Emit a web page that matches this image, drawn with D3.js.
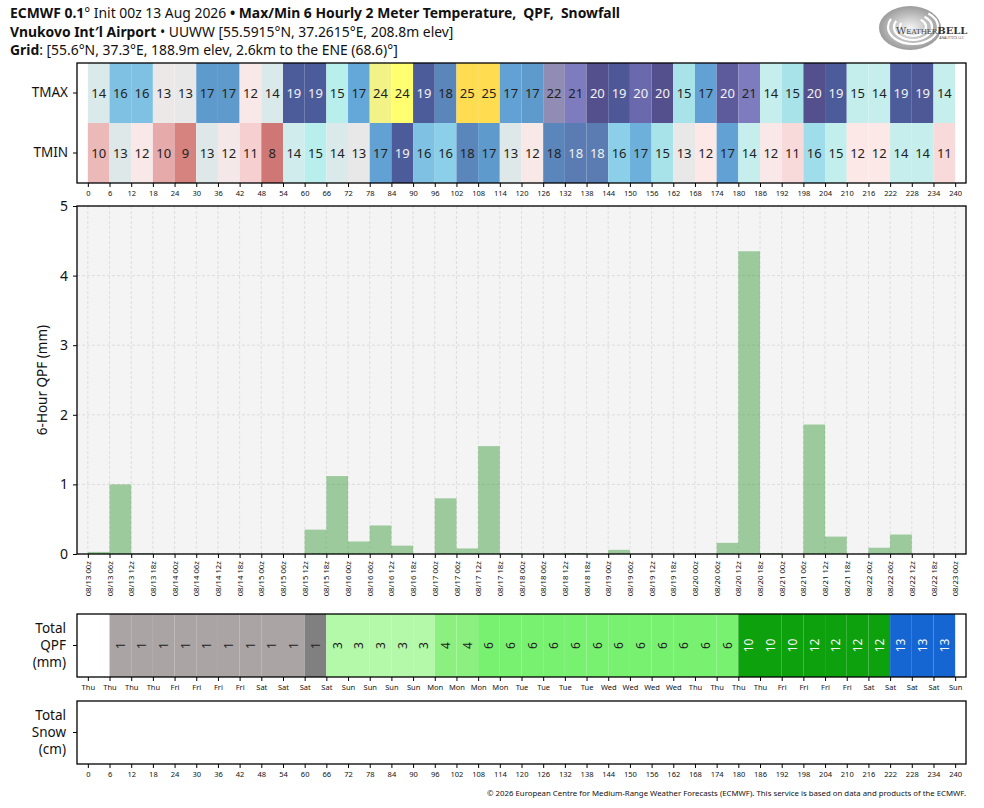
<!DOCTYPE html>
<html lang="en">
<head>
<meta charset="UTF-8">
<title>ECMWF Max/Min 6 Hourly Temperature, QPF, Snowfall</title>
<style>
  body { margin: 0; background: #fff; }
  svg { display: block; font-family: 'Noto Sans', sans-serif; }
  .tick line { stroke: #000; }
  .domain { display: none; }
  .title text { white-space: pre; }
</style>
</head>
<body>
<div id="chart"></div>
<script src="https://cdn.jsdelivr.net/npm/d3@7/dist/d3.min.js"></script>
<script>
// forecast start and 6 hour steps (start hour of each period)
const initTime = new Date(Date.UTC(2026, 7, 13, 0));
const steps = d3.range(0, 240, 6);
const tickHours = d3.range(0, 241, 6);

// 6 hourly max / min 2 m temperature (degC)
const tmax = [13.6, 16.4, 16.4, 12.8, 13.0, 17.4, 17.4, 12.2, 13.6, 19.0,
              19.0, 15.0, 17.0, 23.6, 24.2, 19.0, 18.0, 25.0, 25.0, 17.2,
              17.4, 22.0, 21.0, 20.0, 19.3, 20.45, 20.0, 15.4, 17.2, 20.2,
              21.0, 14.4, 15.4, 20.0, 19.0, 14.5, 14.4, 19.0, 19.3, 14.4];
const tmin = [10.4, 13.4, 12.2, 10.0, 9.0, 13.4, 12.4, 11.0, 8.2, 14.0,
              15.0, 13.6, 13.0, 17.2, 19.0, 16.4, 16.0, 18.0, 17.4, 13.4,
              12.2, 18.0, 18.4, 18.4, 16.0, 16.8, 15.4, 13.0, 12.0, 17.2,
              14.4, 12.2, 11.4, 15.6, 14.6, 12.0, 12.0, 14.4, 14.4, 11.4];

// 6 hour precipitation (mm)
const qpf6h = [0.03, 1.00, 0.01, 0, 0, 0, 0, 0, 0, 0,
               0.35, 1.12, 0.18, 0.41, 0.12, 0, 0.80, 0.08, 1.55, 0.01,
               0, 0, 0.01, 0, 0.06, 0, 0, 0, 0, 0.16,
               4.35, 0.01, 0, 1.86, 0.25, 0, 0.09, 0.28, 0, 0];

// temperature colour map
const tempStops = [8, 9, 10, 11, 12, 13, 13.5, 14, 14.5, 15, 15.5, 16, 16.5, 17, 17.5,
                   18, 18.5, 19, 20, 20.5, 21, 22, 23.5, 24.2, 25];
const tempColors = ['#cc7472', '#d6827f', '#e6aaaa', '#f6d0d0', '#fde8e8', '#e8e8e8', '#dde8e8',
                    '#d0ecec', '#c4eeec', '#b8eeec', '#a4e0ea', '#8ccfe8', '#7bbde0', '#64a8da',
                    '#5e96c8', '#5a86bc', '#5a7ab0', '#4c5c9a', '#54508e', '#6e6cb0', '#7e7cbe',
                    '#908cb4', '#f0f08a', '#ffff70', '#ffdc50'];

// accumulated precipitation colour bins (mm)
const qpfThresholds = [0.5, 1.25, 2.5, 3.75, 5, 7.5, 10, 12.5, 20];
const qpfColors = ['#ffffff', '#aaa4a4', '#808080', '#b4f9aa', '#8cf080', '#78f070',
                   '#3cc83c', '#0ea10e', '#1565d2', '#0a3c96'];

const W = 984, H = 808;
const left = 77, right = 966;

const tempColor = d3.scaleLinear().domain(tempStops).range(tempColors).clamp(true);
const qpfColor = d3.scaleThreshold().domain(qpfThresholds).range(qpfColors);
const x = d3.scaleLinear().domain([-3, 243]).range([left, right]);
const fmtDate = d3.utcFormat('%m/%d %Hz');
const fmtDay = d3.utcFormat('%a');
const hourToDate = h => new Date(initTime.getTime() + h * 3600e3);

const svg = d3.select('#chart').append('svg')
  .attr('width', W)
  .attr('height', H);

svg.append('rect').attr('width', W).attr('height', H).attr('fill', '#fff');

// ---- title
const title = svg.append('g').attr('class', 'title').attr('font-size', 13.9).attr('fill', '#111');
const line = (y, parts) => {
  const t = title.append('text').attr('x', 10).attr('y', y);
  parts.forEach(([txt, bold]) => {
    t.append('tspan').attr('font-weight', bold ? 700 : 400).text(txt);
  });
};
line(18, [['ECMWF 0.1', true], ['\u00b0 Init 00z 13 Aug 2026 ', false], ['\u2022 ', true],
          ['Max/Min 6 Hourly 2 Meter Temperature,  QPF,  Snowfall', true]]);
line(37, [['Vnukovo Int\u2032l Airport', true], [' \u2022 UUWW [55.5915\u00b0N, 37.2615\u00b0E, 208.8m elev]', false]]);
line(55, [['Grid', true], [': [55.6\u00b0N, 37.3\u00b0E, 188.9m elev, 2.6km to the ENE (68.6)\u00b0]', false]]);

// ---- logo
const logo = svg.append('g').attr('transform', 'translate(910,28)');
const grad = svg.append('defs').append('radialGradient').attr('id', 'lg');
grad.append('stop').attr('offset', '0%').attr('stop-color', '#f4f4f4');
grad.append('stop').attr('offset', '100%').attr('stop-color', '#8a8a8a');
logo.append('ellipse').attr('rx', 31).attr('ry', 22).attr('fill', 'url(#lg)').attr('opacity', 0.85);
[[25, 17], [19, 13], [13, 9]].forEach(([rx, ry]) => {
  logo.append('ellipse').attr('rx', rx).attr('ry', ry).attr('cx', 3).attr('cy', -1)
    .attr('fill', 'none').attr('stroke', '#fff').attr('stroke-width', 2.2)
    .attr('stroke-dasharray', `${rx * 3} ${rx * 1.6}`);
});
const lt = logo.append('text').attr('x', -14).attr('y', 6).attr('fill', '#444')
  .attr('font-family', "'DejaVu Serif', serif");
lt.append('tspan').attr('font-size', 10).text('W');
lt.append('tspan').attr('font-size', 7).text('EATHER');
lt.append('tspan').attr('font-size', 10).attr('font-weight', 700).attr('fill', '#333').text('BELL');
logo.append('text').attr('x', 54).attr('y', 11).attr('text-anchor', 'end')
  .attr('font-size', 3.5).attr('fill', '#555').text('ANALYTICS LLC');

// ---- bottom hour axis helper
const hourAxis = (g, y, fmt, size) => {
  g.attr('transform', `translate(0,${y})`)
    .call(d3.axisBottom(x).tickValues(tickHours).tickSize(4).tickPadding(4).tickFormat(fmt))
    .call(a => a.selectAll('text').attr('font-size', size).attr('fill', '#111')
      .attr('font-family', "'Noto Sans', sans-serif"));
};

// ---- temperature strip
const rows = [{name: 'TMAX', vals: tmax}, {name: 'TMIN', vals: tmin}];
const rowY = d3.scaleBand().domain(rows.map(r => r.name)).range([63, 183]);
const tg = svg.append('g');
rows.forEach(r => {
  const cells = tg.selectAll(null).data(steps.map((h, i) => ({h, v: r.vals[i]})))
    .enter().append('g');
  cells.append('rect')
    .attr('x', d => x(d.h)).attr('width', d => x(d.h + 6) - x(d.h))
    .attr('y', rowY(r.name)).attr('height', rowY.bandwidth())
    .attr('fill', d => tempColor(d.v));
  cells.append('text')
    .attr('x', d => x(d.h + 3)).attr('y', rowY(r.name) + rowY.bandwidth() / 2)
    .attr('dy', '0.36em').attr('text-anchor', 'middle').attr('font-size', 13)
    .attr('fill', d => d3.lab(tempColor(d.v)).l < 53 ? '#f2f2f2' : '#222')
    .text(d => Math.round(d.v));
});
tg.append('rect').attr('x', left).attr('y', 63).attr('width', right - left).attr('height', 120)
  .attr('fill', 'none').attr('stroke', '#000').attr('stroke-width', 1.3);
tg.append('g').attr('transform', `translate(${left},0)`)
  .call(d3.axisLeft(rowY).tickSize(4).tickPadding(5))
  .call(a => a.selectAll('text').attr('font-size', 13.5).attr('fill', '#111')
    .attr('font-family', "'Noto Sans', sans-serif"));
hourAxis(tg.append('g'), 183, d3.format('d'), 7.5);

// ---- 6 hour QPF chart
const y = d3.scaleLinear().domain([0, 5]).range([554, 206]);
const qg = svg.append('g');
qg.append('rect').attr('x', left).attr('y', 206).attr('width', right - left).attr('height', 348)
  .attr('fill', '#f4f4f4');
qg.append('g').selectAll('line').data(tickHours).enter().append('line')
  .attr('x1', d => x(d)).attr('x2', d => x(d)).attr('y1', 206).attr('y2', 554)
  .attr('stroke', '#d8d8d8').attr('stroke-width', 0.8).attr('stroke-dasharray', '3,2');
qg.append('g').selectAll('line').data(y.ticks(5)).enter().append('line')
  .attr('x1', left).attr('x2', right).attr('y1', d => y(d)).attr('y2', d => y(d))
  .attr('stroke', '#d8d8d8').attr('stroke-width', 0.8).attr('stroke-dasharray', '3,2');
qg.append('g').selectAll('rect').data(steps.map((h, i) => ({h, v: qpf6h[i]})).filter(d => d.v > 0))
  .enter().append('rect')
  .attr('x', d => x(d.h)).attr('width', d => x(d.h + 6) - x(d.h))
  .attr('y', d => y(d.v)).attr('height', d => y(0) - y(d.v))
  .attr('fill', '#008000').attr('fill-opacity', 0.36);
qg.append('rect').attr('x', left).attr('y', 206).attr('width', right - left).attr('height', 348)
  .attr('fill', 'none').attr('stroke', '#000').attr('stroke-width', 1.3);
qg.append('g').attr('transform', `translate(${left},0)`)
  .call(d3.axisLeft(y).ticks(5).tickSize(4).tickPadding(5))
  .call(a => a.selectAll('text').attr('font-size', 14).attr('fill', '#111')
    .attr('font-family', "'Noto Sans', sans-serif"));
qg.append('text').attr('transform', 'translate(47,380) rotate(-90)')
  .attr('text-anchor', 'middle').attr('font-size', 13.5).attr('fill', '#111')
  .text('6-Hour QPF (mm)');
qg.append('g').attr('transform', 'translate(0,554)')
  .call(d3.axisBottom(x).tickValues(tickHours).tickSize(4).tickFormat(h => fmtDate(hourToDate(h))))
  .call(a => a.selectAll('text')
    .attr('font-size', 7.8).attr('fill', '#111').attr('font-family', "'Noto Sans', sans-serif")
    .attr('transform', 'rotate(-90)').attr('text-anchor', 'end')
    .attr('x', -7).attr('y', 0).attr('dy', '0.33em'));

// ---- total QPF strip
const cum = Array.from(d3.cumsum(qpf6h));
const pg = svg.append('g');
const ptop = 614, pbot = 677, pmid = (ptop + pbot) / 2;
const pcells = pg.selectAll(null).data(steps.map((h, i) => ({h, v: cum[i]}))).enter().append('g');
pcells.append('rect')
  .attr('x', d => x(d.h)).attr('width', d => x(d.h + 6) - x(d.h))
  .attr('y', ptop).attr('height', pbot - ptop)
  .attr('fill', d => qpfColor(d.v));
pcells.filter(d => d.v >= 0.5).append('text')
  .attr('transform', d => `translate(${x(d.h + 3)},${pmid}) rotate(-90)`)
  .attr('text-anchor', 'middle').attr('dy', '0.36em').attr('font-size', 12)
  .attr('fill', d => d.v >= 10 ? '#f4f4f4' : '#222')
  .text(d => Math.round(d.v));
pg.append('rect').attr('x', left).attr('y', ptop).attr('width', right - left).attr('height', pbot - ptop)
  .attr('fill', 'none').attr('stroke', '#000').attr('stroke-width', 1.3);
pg.append('line').attr('x1', left - 4).attr('x2', left).attr('y1', pmid).attr('y2', pmid).attr('stroke', '#000');
['Total', 'QPF', '(mm)'].forEach((s, i) => {
  pg.append('text').attr('x', 66).attr('y', pmid + (i - 1) * 17).attr('dy', '0.36em')
    .attr('text-anchor', 'end').attr('font-size', 13.5).attr('fill', '#111').text(s);
});
hourAxis(pg.append('g'), pbot, h => fmtDay(hourToDate(h)), 7.5);

// ---- total snow strip (no snow in this run)
const sg = svg.append('g');
const stop = 701, sbot = 764, smid = (stop + sbot) / 2;
sg.append('rect').attr('x', left).attr('y', stop).attr('width', right - left).attr('height', sbot - stop)
  .attr('fill', '#fff').attr('stroke', '#000').attr('stroke-width', 1.3);
sg.append('line').attr('x1', left - 4).attr('x2', left).attr('y1', smid).attr('y2', smid).attr('stroke', '#000');
['Total', 'Snow', '(cm)'].forEach((s, i) => {
  sg.append('text').attr('x', 66).attr('y', smid + (i - 1) * 17).attr('dy', '0.36em')
    .attr('text-anchor', 'end').attr('font-size', 13.5).attr('fill', '#111').text(s);
});
hourAxis(sg.append('g'), sbot, d3.format('d'), 7.5);

// ---- footer
svg.append('text').attr('x', right).attr('y', 796).attr('text-anchor', 'end')
  .attr('font-size', 7.8).attr('fill', '#111')
  .text('\u00a9 2026 European Centre for Medium-Range Weather Forecasts (ECMWF). This service is based on data and products of the ECMWF.');
</script>
</body>
</html>
